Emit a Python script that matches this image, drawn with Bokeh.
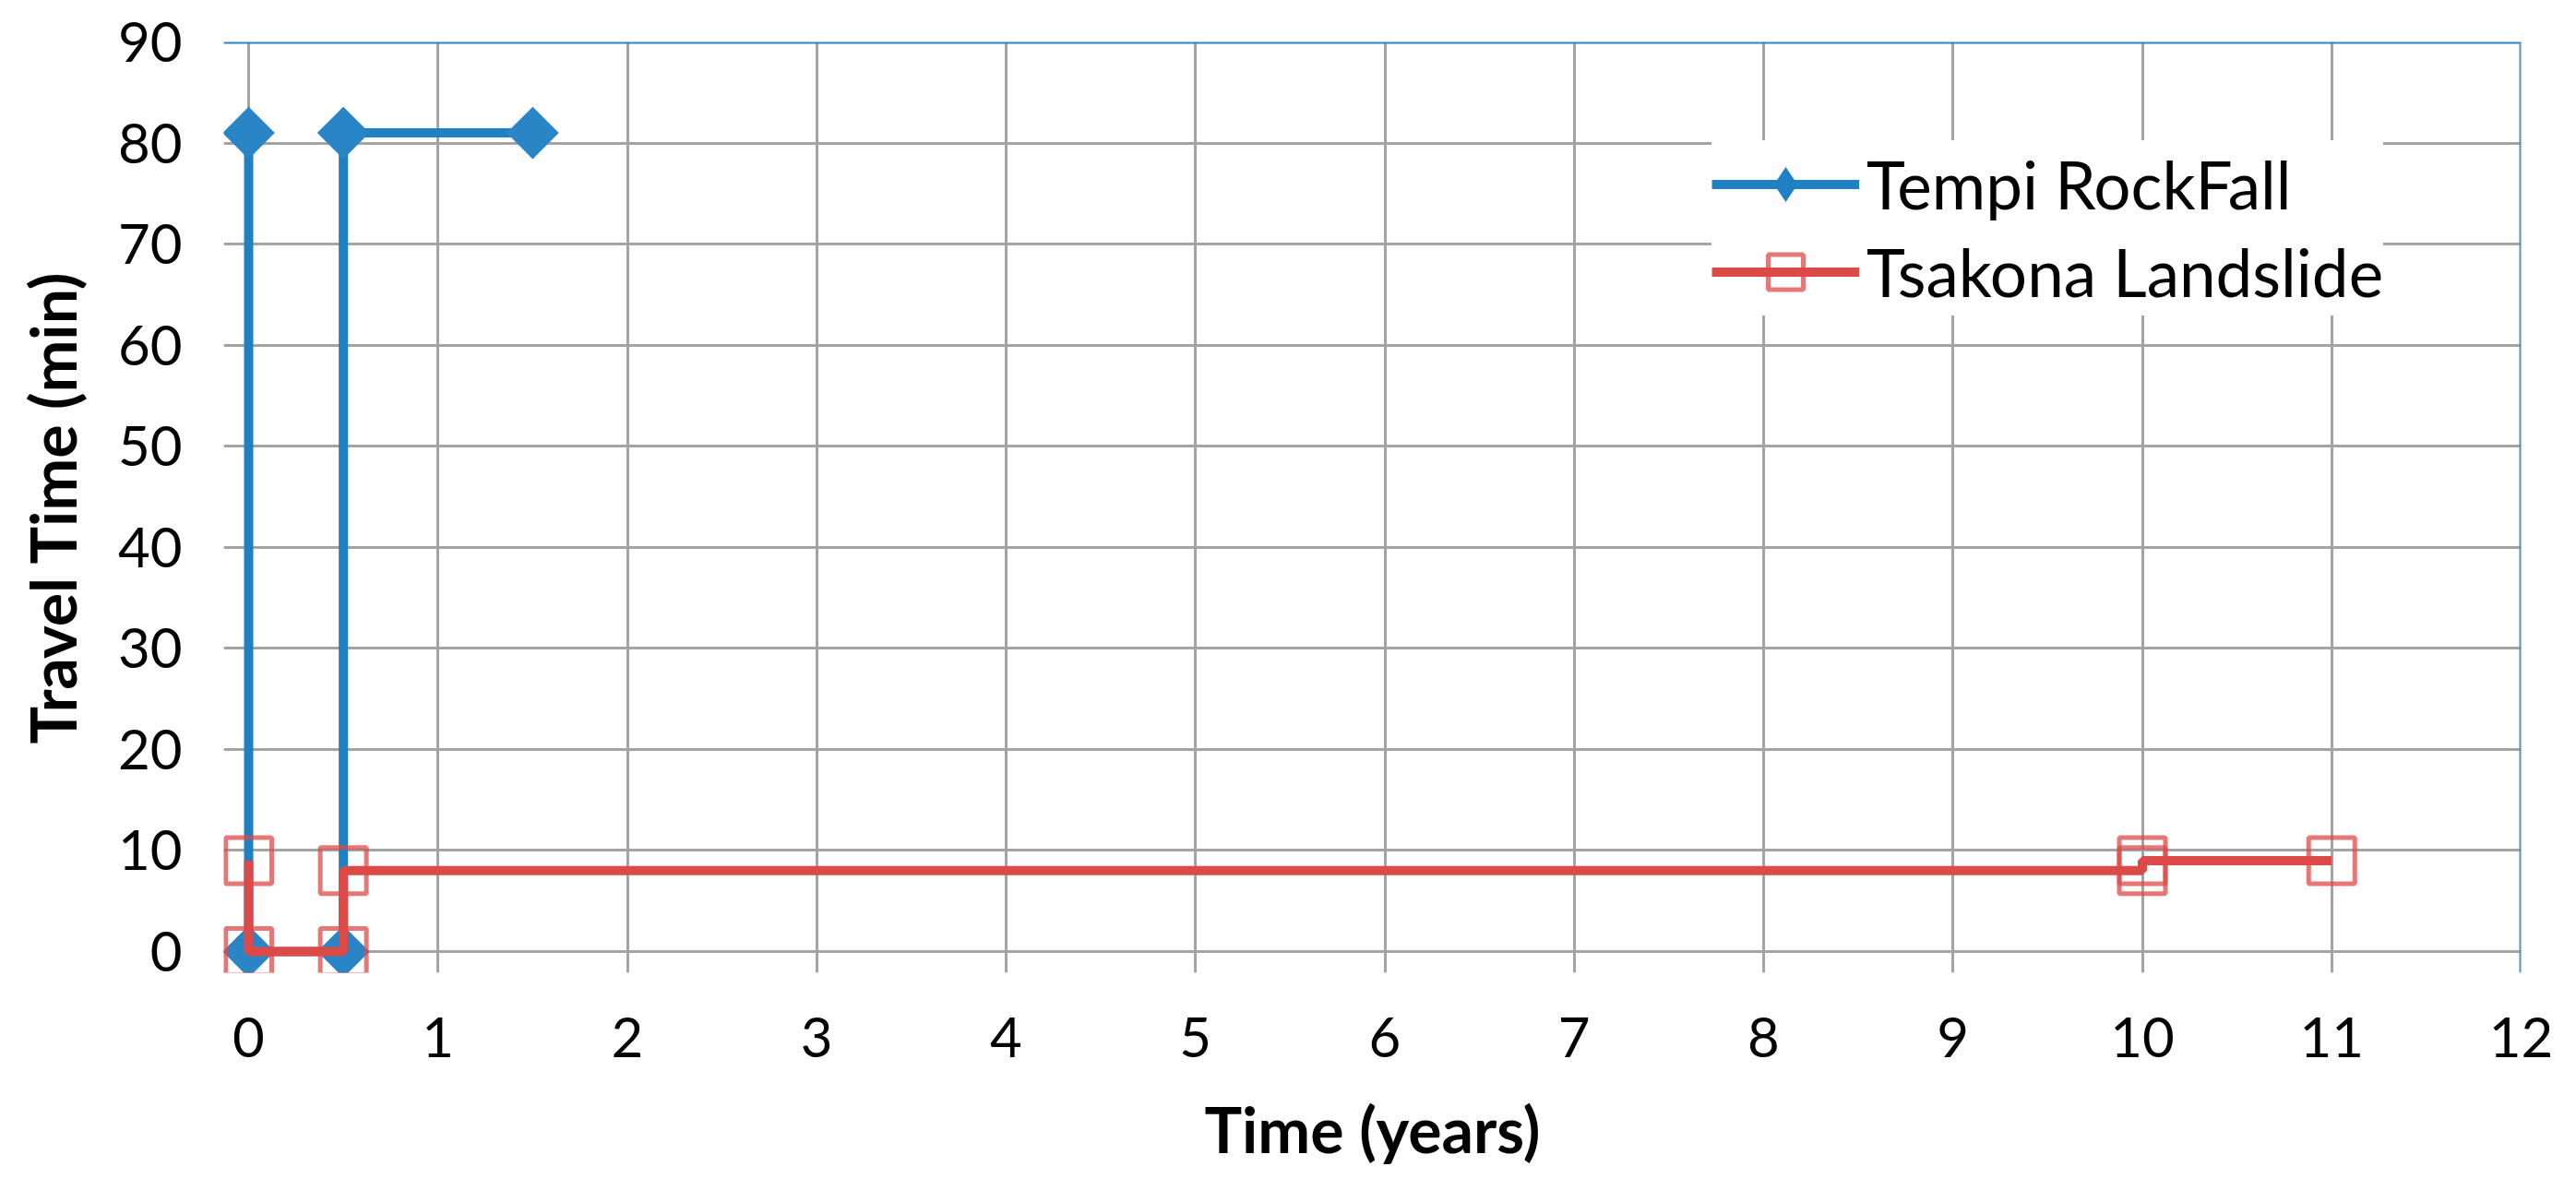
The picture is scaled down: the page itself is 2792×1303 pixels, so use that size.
import math
from bokeh.plotting import figure
from bokeh.models import Range1d, FixedTicker, Legend, LegendItem, Span
from bokeh.embed import file_html
from bokeh.resources import INLINE

# ---- data ----
tempi_time = [0, 0, 0.5, 0.5, 1.5]
tempi_travel = [81, 0, 0, 81, 81]
tsakona_time = [0, 0, 0.5, 0.5, 10, 10, 11]
tsakona_travel = [9, 0, 0, 8, 8, 9, 9]
x_ticks = list(range(0, 13))
y_ticks = list(range(0, 91, 10))
series_names = ["Tempi RockFall", "Tsakona Landslide"]

BLUE = "#1f80c3"
RED = "#dc4a48"
GRID = "#a3a3a3"
FONT = "Lato"

# the frame reaches a little past 0 on both axes so that the grid lines
# stick out like Excel's outward tick marks
x_pad = 27 / (2463 / 12)
y_pad = 23 / (986 / 90)

p = figure(width=2776, height=1287,
           x_range=Range1d(-x_pad, 12), y_range=Range1d(-y_pad, 90),
           output_backend="svg", toolbar_location=None,
           min_border_left=242, min_border_right=44,
           min_border_top=45, min_border_bottom=233)
p.outline_line_color = None

p.xaxis.ticker = FixedTicker(ticks=x_ticks)
p.yaxis.ticker = FixedTicker(ticks=y_ticks)
p.axis.axis_line_color = None
p.axis.major_tick_line_color = None
p.axis.major_tick_in = 0
p.axis.major_tick_out = 0
p.axis.minor_tick_line_color = None
p.axis.major_label_text_font = FONT
p.axis.major_label_text_font_size = "60px"
p.axis.major_label_text_color = "black"
p.axis.axis_label_text_font = FONT
p.axis.axis_label_text_font_style = "bold"
p.axis.axis_label_text_font_size = "68px"
p.axis.axis_label_text_color = "black"
p.xaxis.major_label_standoff = 48
p.yaxis.major_label_standoff = 45
p.xaxis.axis_label = "Time (years)"
p.yaxis.axis_label = "Travel Time (min)"
p.xaxis.axis_label_standoff = 34
p.yaxis.axis_label_standoff = 28

p.xgrid.grid_line_color = GRID
p.xgrid.grid_line_width = 3
p.ygrid.grid_line_color = GRID
p.ygrid.grid_line_width = 3

# blue plot-area border on top and right
p.add_layout(Span(location=y_ticks[-1], dimension="width", line_color="#2a84c5", line_width=4))
p.add_layout(Span(location=x_ticks[-1], dimension="height", line_color="#5a8fc0", line_width=4))

# series
tl = p.line(tempi_time, tempi_travel, line_color=BLUE, line_width=10)
td = p.scatter(tempi_time, tempi_travel, marker="diamond", size=52, fill_color=BLUE, line_color=None)
p.scatter(tempi_time, tempi_travel, marker="square", size=40, angle=math.pi / 4,
          fill_color="#2a85c6", line_color=None)
rl = p.line(tsakona_time, tsakona_travel, line_color=RED, line_width=10)
rs = p.scatter(tsakona_time, tsakona_travel, marker="square", size=50, fill_color=None,
               line_color=RED, line_width=5, line_alpha=0.75)

legend = Legend(items=[LegendItem(label=series_names[0], renderers=[tl, td]),
                       LegendItem(label=series_names[1], renderers=[rl, rs])],
                location=(1613, 712), glyph_width=160, glyph_height=95, spacing=0,
                padding=2, margin=0, label_standoff=8,
                label_text_font=FONT, label_text_font_size="71px", label_text_color="black",
                background_fill_color="white", background_fill_alpha=1.0,
                border_line_color=None)
p.add_layout(legend)

open("out.html", "w").write(file_html(p, INLINE))
